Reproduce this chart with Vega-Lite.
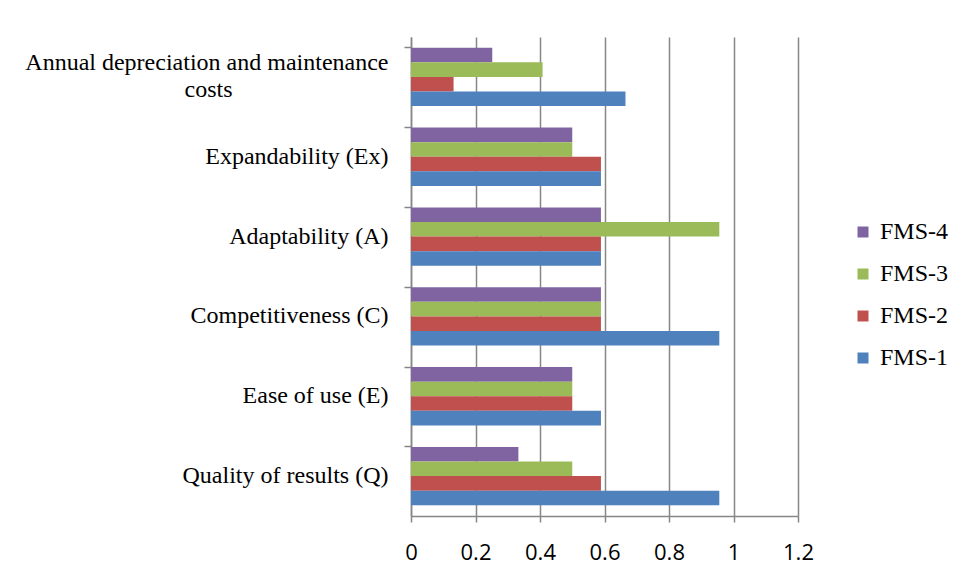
{
  "$schema": "https://vega.github.io/schema/vega-lite/v6.json",
  "autosize": {"type": "none"},
  "padding": {"left": 411, "top": 37, "right": 160, "bottom": 63},
  "width": 387,
  "height": 479,
  "background": "white",
  "data": {
    "values": [
      {"criterion": "Annual depreciation and maintenance costs", "system": "FMS-4", "score": 0.252},
      {"criterion": "Annual depreciation and maintenance costs", "system": "FMS-3", "score": 0.408},
      {"criterion": "Annual depreciation and maintenance costs", "system": "FMS-2", "score": 0.132},
      {"criterion": "Annual depreciation and maintenance costs", "system": "FMS-1", "score": 0.665},
      {"criterion": "Expandability (Ex)", "system": "FMS-4", "score": 0.5},
      {"criterion": "Expandability (Ex)", "system": "FMS-3", "score": 0.5},
      {"criterion": "Expandability (Ex)", "system": "FMS-2", "score": 0.589},
      {"criterion": "Expandability (Ex)", "system": "FMS-1", "score": 0.589},
      {"criterion": "Adaptability (A)", "system": "FMS-4", "score": 0.589},
      {"criterion": "Adaptability (A)", "system": "FMS-3", "score": 0.956},
      {"criterion": "Adaptability (A)", "system": "FMS-2", "score": 0.589},
      {"criterion": "Adaptability (A)", "system": "FMS-1", "score": 0.589},
      {"criterion": "Competitiveness (C)", "system": "FMS-4", "score": 0.589},
      {"criterion": "Competitiveness (C)", "system": "FMS-3", "score": 0.589},
      {"criterion": "Competitiveness (C)", "system": "FMS-2", "score": 0.589},
      {"criterion": "Competitiveness (C)", "system": "FMS-1", "score": 0.956},
      {"criterion": "Ease of use (E)", "system": "FMS-4", "score": 0.5},
      {"criterion": "Ease of use (E)", "system": "FMS-3", "score": 0.5},
      {"criterion": "Ease of use (E)", "system": "FMS-2", "score": 0.5},
      {"criterion": "Ease of use (E)", "system": "FMS-1", "score": 0.589},
      {"criterion": "Quality of results (Q)", "system": "FMS-4", "score": 0.333},
      {"criterion": "Quality of results (Q)", "system": "FMS-3", "score": 0.5},
      {"criterion": "Quality of results (Q)", "system": "FMS-2", "score": 0.589},
      {"criterion": "Quality of results (Q)", "system": "FMS-1", "score": 0.956}
    ]
  },
  "mark": {"type": "bar"},
  "encoding": {
    "y": {
      "field": "criterion",
      "type": "nominal",
      "sort": null,
      "scale": {"paddingInner": 0.27, "paddingOuter": 0.135},
      "axis": {
        "title": null,
        "bandPosition": 0,
        "domainColor": "#868686",
        "domainWidth": 1.5,
        "tickColor": "#868686",
        "tickWidth": 1.5,
        "tickSize": 7,
        "labelFont": "Liberation Serif",
        "labelFontSize": 24,
        "labelColor": "#000000",
        "labelPadding": 16,
        "labelLineHeight": 27,
        "labelLimit": 500,
        "labelOffset": {
          "condition": {"test": "datum.value == 'Annual depreciation and maintenance costs'", "value": -13.5},
          "value": 0
        },
        "labelExpr": "datum.value == 'Annual depreciation and maintenance costs' ? ['Annual depreciation and maintenance', 'costs\u00a0\u00a0\u00a0\u00a0\u00a0\u00a0\u00a0\u00a0\u00a0\u00a0\u00a0\u00a0\u00a0\u00a0\u00a0\u00a0\u00a0\u00a0\u00a0\u00a0\u00a0\u00a0\u00a0\u00a0\u00a0\u00a0\u200b'] : datum.label"
      }
    },
    "x": {
      "field": "score",
      "type": "quantitative",
      "scale": {"domain": [0, 1.2], "nice": false},
      "axis": {
        "title": null,
        "values": [0, 0.2, 0.4, 0.6, 0.8, 1, 1.2],
        "format": "~g",
        "grid": true,
        "gridColor": "#868686",
        "gridWidth": 1.5,
        "domainColor": "#868686",
        "domainWidth": 1.5,
        "tickColor": "#868686",
        "tickWidth": 1.5,
        "tickSize": 6,
        "labelFont": "Open Sans",
        "labelFontSize": 22,
        "labelColor": "#000000",
        "labelBaseline": "alphabetic",
        "labelPadding": 37,
        "labelFlush": false
      }
    },
    "yOffset": {
      "field": "system",
      "type": "nominal",
      "scale": {"domain": ["FMS-4", "FMS-3", "FMS-2", "FMS-1"]}
    },
    "color": {
      "field": "system",
      "type": "nominal",
      "scale": {
        "domain": ["FMS-4", "FMS-3", "FMS-2", "FMS-1"],
        "range": ["#8064A2", "#9BBB59", "#C0504D", "#4F81BD"]
      },
      "legend": {
        "title": null,
        "orient": "none",
        "legendX": 440,
        "legendY": 183,
        "padding": 0,
        "symbolType": "square",
        "symbolSize": 121,
        "symbolStrokeWidth": 0,
        "labelFont": "Liberation Serif",
        "labelFontSize": 24,
        "labelColor": "#000000",
        "labelOffset": 5,
        "rowPadding": 18
      }
    }
  },
  "config": {
    "view": {"stroke": null},
    "axis": {"labelOverlap": false}
  }
}
